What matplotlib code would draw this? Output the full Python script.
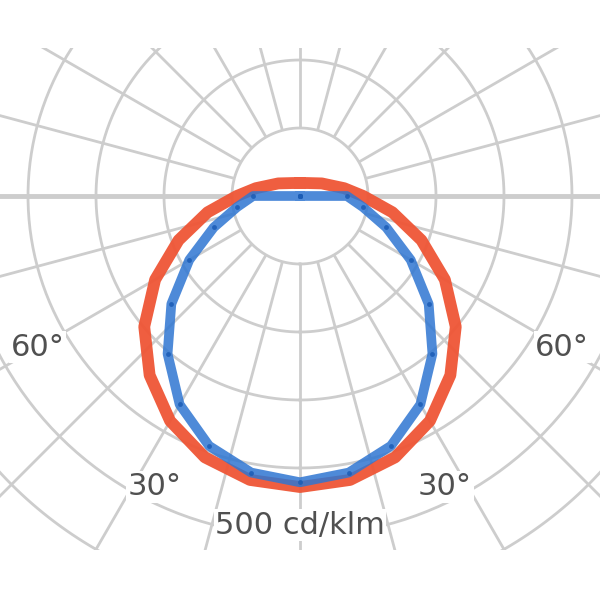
import numpy as np
import matplotlib.pyplot as plt

# Lichtstärkeverteilung, Winkel ab Nadir (symmetrisch), Werte in cd/klm
gamma = [0, 10, 20, 30, 40, 50, 60, 70, 80, 90, 100, 120, 150, 180]
red_cd = [428, 424, 409, 382, 344, 299, 246, 190, 138, 93, 66, 37, 22, 19]
blue_cd = [421, 413, 391, 354, 303, 247, 188, 135, 94, 69, 0, 0, 0, 0]

ring_values = [100, 200, 300, 400, 500, 600, 700]
angle_labels = ["60°", "30°", "30°", "60°"]
intensity_label = "500 cd/klm"

px = 0.68  # pixel je cd/klm


def to_xy(g_deg, vals):
    g = np.deg2rad(np.asarray(g_deg, dtype=float))
    v = np.asarray(vals, dtype=float)
    return v * np.sin(g), -v * np.cos(g)


def mirrored(g_deg, vals):
    g = np.concatenate([-np.array(g_deg[::-1]), np.array(g_deg[1:])])
    v = np.concatenate([np.array(vals[::-1]), np.array(vals[1:])])
    return g, v


fig = plt.figure(figsize=(6, 6), dpi=100)
ax = fig.add_axes([0, 50 / 600, 1, 502 / 600])
ax.set_xlim(-300 / px, 300 / px)
ax.set_ylim(-(550 - 196) / px, (196 - 48) / px)
ax.axis("off")

grid_col = "#cdcdcd"

# Kreise
t = np.linspace(0, 360, 361)
for rv in ring_values:
    x, y = to_xy(t, [rv] * len(t))
    ax.plot(x, y, color=grid_col, lw=2.0, zorder=1)

# Strahlen alle 15 Grad
for a in range(0, 360, 15):
    lw = 2.0
    if a in (90, 270):
        lw = 3.5
    x, y = to_xy([a, a], [ring_values[0], 900])
    ax.plot(x, y, color=grid_col, lw=lw, zorder=1, solid_capstyle="butt")

# Kurven
g, v = mirrored(gamma, red_cd)
x, y = to_xy(g, v)
ax.plot(x, y, color="#ef5535", lw=8.5, alpha=0.95, zorder=4, solid_joinstyle="round")

g, v = mirrored(gamma, blue_cd)
x, y = to_xy(g, v)
ax.plot(x, y, color="#2f76d2", lw=7.0, alpha=0.85, zorder=5, solid_joinstyle="round",
        marker="o", markersize=3.5, markerfacecolor="#1b5cb5", markeredgewidth=0)

# Beschriftung
lab_pos = [(-60, 445), (-26.5, 478), (26.5, 478), (60, 445)]
box = dict(facecolor="white", edgecolor="none", pad=1.0)
for txt, (a, r) in zip(angle_labels, lab_pos):
    x, y = to_xy([a], [r])
    ax.text(x[0], y[0], txt, fontsize=22, color="#505050", ha="center", va="center",
            bbox=box, zorder=3)

x, y = to_xy([0], [484])
ax.text(x[0], y[0], intensity_label, fontsize=22, color="#505050", ha="center",
        va="center", bbox=box, zorder=3)

fig.savefig("out.png", dpi=100)
